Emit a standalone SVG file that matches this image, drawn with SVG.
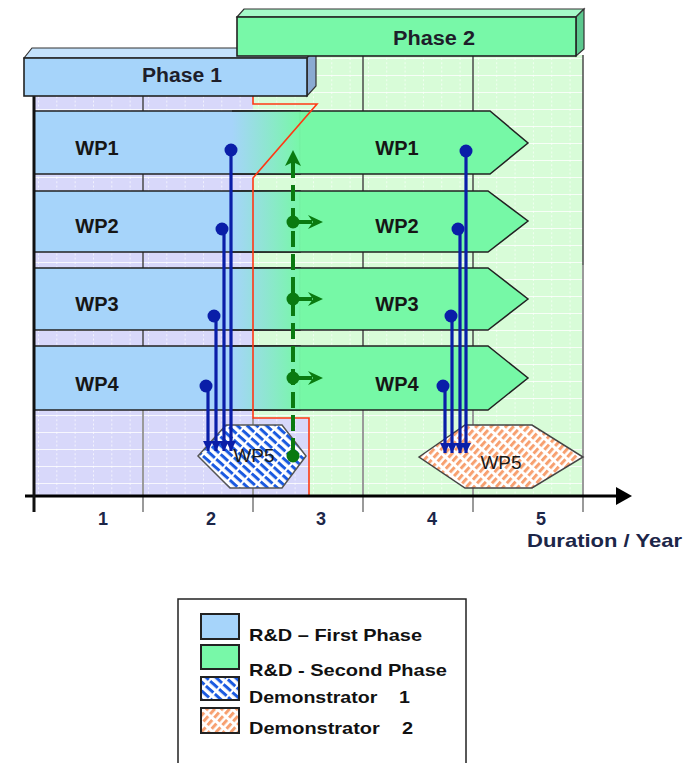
<svg xmlns="http://www.w3.org/2000/svg" width="694" height="763" viewBox="0 0 694 763">
<style>
text{font-family:"Liberation Sans",Arial,sans-serif;font-weight:bold;fill:#161616}
.wp{font-size:20px;text-anchor:middle}
.ph{font-size:20px;text-anchor:middle;fill:#1e1e2a}
.ax{font-size:18px;fill:#1c2648;text-anchor:middle}
.leg{font-size:17px;fill:#111}
.w5{font-size:19px;font-weight:normal;text-anchor:middle;fill:#1a1a1a}
.edge{fill:none;stroke:#222;stroke-width:1.5}
.gd{stroke:#4a4a4a;stroke-width:1.5}
.gl{stroke:#9a9a9a;stroke-width:2}
.blue{stroke:#0a1ea8;stroke-width:3.2;fill:none}
.bdot{fill:#0a1ea8}
.green{stroke:#0a7a10;stroke-width:4;fill:none}
.gfill{fill:#0a7a10}
</style>
<defs>
<pattern id="grid" patternUnits="userSpaceOnUse" x="38" y="7" width="18.33" height="17">
<line x1="0" y1="0" x2="18.33" y2="0" stroke="#fff" stroke-width="1.6"/>
<line x1="0" y1="0" x2="0" y2="17" stroke="#fff" stroke-width="1.3" stroke-dasharray="2 2.2"/>
</pattern>
<pattern id="hb" patternUnits="userSpaceOnUse" width="12" height="6.5" patternTransform="rotate(42)">
<rect width="12" height="6.5" fill="#fff"/>
<rect x="0" y="0" width="10" height="3" fill="#1a5ae0"/>
</pattern>
<pattern id="ho" patternUnits="userSpaceOnUse" width="10" height="5.5" patternTransform="rotate(-48)">
<rect width="10" height="5.5" fill="#fff"/>
<rect x="0" y="0" width="7" height="3" fill="#f7a070"/>
</pattern>
<linearGradient id="rowg" gradientUnits="userSpaceOnUse" x1="232" y1="0" x2="302" y2="0">
<stop offset="0" stop-color="#76f8a6" stop-opacity="0"/>
<stop offset="1" stop-color="#76f8a6" stop-opacity="1"/>
</linearGradient>
<marker id="ab" markerUnits="userSpaceOnUse" markerWidth="10" markerHeight="10" refX="10" refY="5" orient="auto">
<path d="M0,0 L10,5 L0,10 z" fill="#0a1ea8"/>
</marker>
</defs>

<g id="background">
<rect x="253" y="55" width="330" height="441" fill="#d8fcd8"/>
<path d="M34,95 H253 V418 H309 V496 H34 Z" fill="#d8d8fa"/>
<rect x="34" y="55" width="549" height="441" fill="url(#grid)"/>
<line class="gd" x1="143" y1="95" x2="143" y2="410"/>
<line class="gd" x1="363" y1="55" x2="363" y2="410"/>
<line class="gd" x1="473" y1="55" x2="473" y2="410"/>
<line class="gd" x1="583" y1="55" x2="583" y2="265"/>
<line class="gl" x1="143" y1="410" x2="143" y2="512"/>
<line class="gl" x1="253" y1="418" x2="253" y2="512"/>
<line class="gl" x1="363" y1="410" x2="363" y2="512"/>
<line class="gl" x1="473" y1="410" x2="473" y2="512"/>
<line class="gl" x1="583" y1="265" x2="583" y2="512"/>
</g>

<g id="wp1">
<rect x="34" y="111" width="266" height="63" fill="#a6d4fa" stroke="#222" stroke-width="1.5"/>
<path d="M232,111 H490 L528,143 L490,174 H232 Z" fill="url(#rowg)"/>
<path class="edge" d="M232,111 H490 L528,143 L490,174 H232"/>
<text class="wp" x="97" y="155">WP1</text>
<text class="wp" x="397" y="155">WP1</text>
</g>
<g id="wp2">
<rect x="34" y="191" width="266" height="61" fill="#a6d4fa" stroke="#222" stroke-width="1.5"/>
<path d="M232,191 H488 L528,221 L488,252 H232 Z" fill="url(#rowg)"/>
<path class="edge" d="M232,191 H488 L528,221 L488,252 H232"/>
<text class="wp" x="97" y="233">WP2</text>
<text class="wp" x="397" y="233">WP2</text>
</g>
<g id="wp3">
<rect x="34" y="268" width="266" height="62" fill="#a6d4fa" stroke="#222" stroke-width="1.5"/>
<path d="M232,268 H488 L528,299 L488,330 H232 Z" fill="url(#rowg)"/>
<path class="edge" d="M232,268 H488 L528,299 L488,330 H232"/>
<text class="wp" x="97" y="311">WP3</text>
<text class="wp" x="397" y="311">WP3</text>
</g>
<g id="wp4">
<rect x="34" y="346" width="266" height="64" fill="#a6d4fa" stroke="#222" stroke-width="1.5"/>
<path d="M232,346 H488 L528,378 L488,410 H232 Z" fill="url(#rowg)"/>
<path class="edge" d="M232,346 H488 L528,378 L488,410 H232"/>
<text class="wp" x="97" y="391">WP4</text>
<text class="wp" x="397" y="391">WP4</text>
</g>

<g id="phase-boundary">
<path d="M253,95 V104 H317 L253,178 V418 H309 V496" fill="none" stroke="#ff3814" stroke-width="1.6"/>
</g>

<g id="wp5-demo1">
<polygon points="198,456 226,425 282,425 306,456 282,488 230,488" fill="url(#hb)" stroke="#555" stroke-width="1.5"/>
<text class="w5" x="254" y="462">WP5</text>
</g>
<g id="wp5-demo2">
<polygon points="419,457 465,425 532,425 583,457 532,488 465,488" fill="url(#ho)" stroke="#444" stroke-width="1.5"/>
<text class="w5" x="501" y="469">WP5</text>
</g>

<g id="connectors">
<line class="blue" x1="231" y1="150" x2="231" y2="451" marker-end="url(#ab)"/>
<line class="blue" x1="224" y1="229" x2="224" y2="451" marker-end="url(#ab)"/>
<line class="blue" x1="216" y1="316" x2="216" y2="451" marker-end="url(#ab)"/>
<line class="blue" x1="208" y1="386" x2="208" y2="451" marker-end="url(#ab)"/>
<circle class="bdot" cx="231" cy="150" r="6.5"/>
<circle class="bdot" cx="222" cy="229" r="6.5"/>
<circle class="bdot" cx="214" cy="316" r="6.5"/>
<circle class="bdot" cx="206" cy="386" r="6.5"/>
<line class="blue" x1="466" y1="151" x2="466" y2="453" marker-end="url(#ab)"/>
<line class="blue" x1="460" y1="229" x2="460" y2="453" marker-end="url(#ab)"/>
<line class="blue" x1="452" y1="316" x2="452" y2="453" marker-end="url(#ab)"/>
<line class="blue" x1="445" y1="386" x2="445" y2="453" marker-end="url(#ab)"/>
<circle class="bdot" cx="466" cy="151" r="6.5"/>
<circle class="bdot" cx="458" cy="229" r="6.5"/>
<circle class="bdot" cx="451" cy="316" r="6.5"/>
<circle class="bdot" cx="443" cy="386" r="6.5"/>
<line class="green" x1="293" y1="162" x2="293" y2="452" stroke-dasharray="16 7"/>
<polygon class="gfill" points="293,150 285,166 293,162 301,166"/>
<circle class="gfill" cx="293" cy="456" r="6.5"/>
<circle class="gfill" cx="293" cy="222" r="6.5"/>
<line class="green" x1="293" y1="222" x2="312" y2="222"/>
<polygon class="gfill" points="308,215 323,222 308,229 313,222"/>
<circle class="gfill" cx="293" cy="299" r="6.5"/>
<line class="green" x1="293" y1="299" x2="312" y2="299"/>
<polygon class="gfill" points="308,292 323,299 308,306 313,299"/>
<circle class="gfill" cx="293" cy="378" r="6.5"/>
<line class="green" x1="293" y1="378" x2="312" y2="378"/>
<polygon class="gfill" points="308,371 323,378 308,385 313,378"/>
</g>

<g id="axis">
<line x1="25" y1="496" x2="620" y2="496" stroke="#000" stroke-width="3"/>
<polygon points="616,487 632,496 616,505" fill="#000"/>
<line x1="34" y1="95" x2="34" y2="512" stroke="#111" stroke-width="3"/>
<text class="ax" x="103" y="525">1</text>
<text class="ax" x="211" y="525">2</text>
<text class="ax" x="321" y="525">3</text>
<text class="ax" x="432" y="525">4</text>
<text class="ax" x="541" y="525">5</text>
<text x="527" y="547" style="font-size:19px;fill:#1c2648" textLength="155" lengthAdjust="spacingAndGlyphs">Duration / Year</text>
</g>

<g id="phase1">
<polygon points="24,58 32,48 316,48 307,58" fill="#c4e2fc" stroke="#333" stroke-width="1.2"/>
<polygon points="307,58 316,48 316,86 307,96" fill="#8aaad2" stroke="#333" stroke-width="1.2"/>
<rect x="24" y="58" width="283" height="38" fill="#a6d4fa" stroke="#222" stroke-width="1.6"/>
<text class="ph" x="182" y="82" textLength="80" lengthAdjust="spacingAndGlyphs">Phase 1</text>
</g>
<g id="phase2">
<polygon points="237,17 244,9 584,9 576,17" fill="#a4fac8" stroke="#333" stroke-width="1.2"/>
<polygon points="576,17 584,9 584,49 576,56" fill="#5cc88e" stroke="#333" stroke-width="1.2"/>
<rect x="237" y="17" width="339" height="39" fill="#78f8a8" stroke="#222" stroke-width="1.6"/>
<text class="ph" x="434" y="45" textLength="82" lengthAdjust="spacingAndGlyphs">Phase 2</text>
</g>

<g id="legend">
<rect x="178" y="599" width="288" height="180" fill="#fff" stroke="#222" stroke-width="1.5"/>
<rect x="201" y="614" width="38" height="25" fill="#a6d4fa" stroke="#222" stroke-width="2"/>
<rect x="201" y="645" width="38" height="24" fill="#78f8a8" stroke="#222" stroke-width="2"/>
<rect x="201" y="677" width="38" height="23" fill="url(#hb)" stroke="#222" stroke-width="2"/>
<rect x="201" y="708" width="38" height="25" fill="url(#ho)" stroke="#222" stroke-width="2"/>
<text class="leg" x="249" y="641" textLength="173" lengthAdjust="spacingAndGlyphs">R&amp;D – First Phase</text>
<text class="leg" x="249" y="676" textLength="198" lengthAdjust="spacingAndGlyphs">R&amp;D - Second Phase</text>
<text class="leg" x="249" y="703" xml:space="preserve" textLength="161" lengthAdjust="spacingAndGlyphs">Demonstrator    1</text>
<text class="leg" x="249" y="734" xml:space="preserve" textLength="164" lengthAdjust="spacingAndGlyphs">Demonstrator    2</text>
</g>
</svg>
